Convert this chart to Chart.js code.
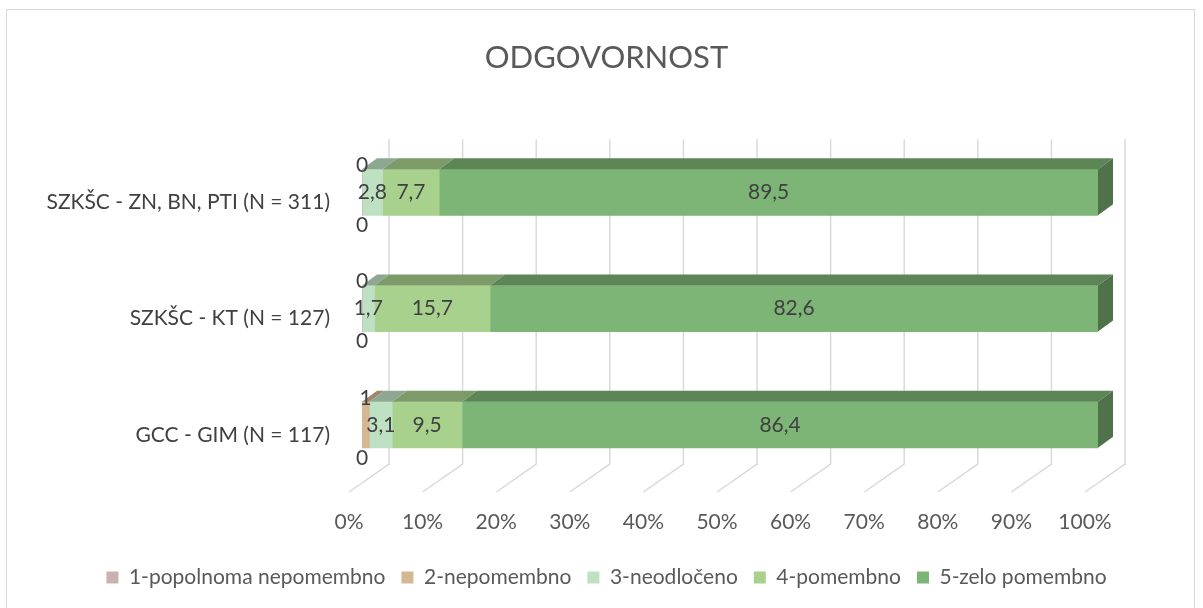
<!DOCTYPE html>
<html>
<head>
<meta charset="utf-8">
<script src="https://cdn.jsdelivr.net/npm/chart.js@4.4.0/dist/chart.umd.min.js"></script>
<style>
    html, body { margin: 0; padding: 0; background: #fff; }
</style>
</head>
<body>
<canvas id="grafOdgovornost" width="1203" height="608"></canvas>
<script>
const kategorije = ['SZKŠC - ZN, BN, PTI (N = 311)', 'SZKŠC - KT (N = 127)', 'GCC - GIM (N = 117)'];
const serije = ['1-popolnoma nepomembno', '2-nepomembno', '3-neodločeno', '4-pomembno', '5-zelo pomembno'];
const odgovor1 = [0, 0, 0];
const odgovor2 = [0, 0, 1];
const odgovor3 = [2.8, 1.7, 3.1];
const odgovor4 = [7.7, 15.7, 9.5];
const odgovor5 = [89.5, 82.6, 86.4];
const oznakeOsi = ['0%', '10%', '20%', '30%', '40%', '50%', '60%', '70%', '80%', '90%', '100%'];

const barve = ['#c9b2ad', '#d5b893', '#bfe1c3', '#a9d18e', '#7db576'];
const pisava = 'Lato, "Noto Sans", sans-serif';
const globina = { dx: 15, dy: 11 };
// odmik oznak za zelo majhne dele (nad / pod stolpcem)
const zunanjeOznake = { 0: 33, 1: -27 };

function senca(hex, f) {
    const n = parseInt(hex.slice(1), 16);
    const r = Math.round(((n >> 16) & 255) * f);
    const g = Math.round(((n >> 8) & 255) * f);
    const b = Math.round((n & 255) * f);
    return `rgb(${r},${g},${b})`;
}

const ozadje = {
    id: 'ozadje',
    beforeDraw(chart) {
        const ctx = chart.ctx;
        ctx.save();
        ctx.fillStyle = '#fff';
        ctx.fillRect(0, 0, chart.width, chart.height);
        ctx.strokeStyle = '#d9d9d9';
        ctx.lineWidth = 1;
        ctx.strokeRect(6.5, 9.5, 1188, 640);
        ctx.restore();
    }
};

// mreža v 3D (zadnja stena + tla)
const mreza = {
    id: 'mreza',
    beforeDatasetsDraw(chart) {
        const ctx = chart.ctx;
        const x = chart.scales.x;
        const area = chart.chartArea;
        ctx.save();
        ctx.strokeStyle = '#d9d9d9';
        ctx.lineWidth = 1.5;
        x.ticks.forEach(t => {
            const px = x.getPixelForValue(t.value);
            ctx.beginPath();
            ctx.moveTo(px + 27, area.top + 5);
            ctx.lineTo(px + 27, area.bottom - 19);
            ctx.lineTo(px - 13, area.bottom + 9);
            ctx.stroke();
        });
        ctx.restore();
    }
};

const stolpci3d = {
    id: 'stolpci3d',
    afterDatasetsDraw(chart) {
        const ctx = chart.ctx;
        const zadnji = chart.data.datasets.length - 1;
        ctx.save();
        chart.data.datasets.forEach((ds, di) => {
            const meta = chart.getDatasetMeta(di);
            meta.data.forEach(bar => {
                const { x, y, base, height } = bar.getProps(['x', 'y', 'base', 'height'], true);
                const top = y - height / 2;
                const bottom = y + height / 2;
                ctx.fillStyle = senca(ds.backgroundColor, 0.74);
                ctx.beginPath();
                ctx.moveTo(base, top);
                ctx.lineTo(x, top);
                ctx.lineTo(x + globina.dx, top - globina.dy);
                ctx.lineTo(base + globina.dx, top - globina.dy);
                ctx.closePath();
                ctx.fill();
                if (di === zadnji) {
                    ctx.fillStyle = senca(ds.backgroundColor, 0.63);
                    ctx.beginPath();
                    ctx.moveTo(x, top);
                    ctx.lineTo(x + globina.dx, top - globina.dy);
                    ctx.lineTo(x + globina.dx, bottom - globina.dy);
                    ctx.lineTo(x, bottom);
                    ctx.closePath();
                    ctx.fill();
                }
            });
        });

        ctx.fillStyle = '#404040';
        ctx.font = `21px ${pisava}`;
        ctx.textAlign = 'center';
        ctx.textBaseline = 'middle';
        chart.data.datasets.forEach((ds, di) => {
            const meta = chart.getDatasetMeta(di);
            meta.data.forEach((bar, i) => {
                const v = ds.data[i];
                const { x, y, base } = bar.getProps(['x', 'y', 'base'], true);
                let cy = y;
                if (zunanjeOznake[di] !== undefined) cy = y + zunanjeOznake[di];
                ctx.fillText(String(v).replace('.', ','), (base + x) / 2, cy);
            });
        });
        ctx.restore();
    }
};

const ctx = document.getElementById('grafOdgovornost').getContext('2d');
const vrednosti = [odgovor1, odgovor2, odgovor3, odgovor4, odgovor5];

new Chart(ctx, {
    type: 'bar',
    data: {
        labels: kategorije,
        datasets: serije.map((ime, i) => ({
            label: ime,
            data: vrednosti[i],
            backgroundColor: barve[i],
            borderWidth: 0,
            barThickness: 46
        }))
    },
    options: {
        responsive: false,
        animation: false,
        devicePixelRatio: 1,
        indexAxis: 'y',
        layout: { padding: { left: 10, right: 0, top: 0, bottom: 10 } },
        plugins: {
            title: {
                display: true,
                text: 'ODGOVORNOST',
                color: '#595959',
                font: { family: pisava, size: 31, weight: 'normal' },
                padding: { top: 39, bottom: 58 }
            },
            legend: {
                position: 'bottom',
                labels: {
                    boxWidth: 12,
                    boxHeight: 12,
                    padding: 16,
                    color: '#595959',
                    font: { family: pisava, size: 21 }
                }
            },
            tooltip: { enabled: false }
        },
        scales: {
            x: {
                stacked: true,
                min: 0,
                max: 100,
                ticks: {
                    stepSize: 10,
                    callback: (v, i) => oznakeOsi[i],
                    labelOffset: -13,
                    padding: 27,
                    color: '#595959',
                    font: { family: pisava, size: 21 }
                },
                grid: { display: false, drawTicks: false },
                border: { display: false },
                afterFit: s => { s.height = 68; }
            },
            y: {
                stacked: true,
                ticks: {
                    padding: 32,
                    labelOffset: 10,
                    color: '#404040',
                    font: { family: pisava, size: 21 }
                },
                grid: { display: false, drawTicks: false },
                border: { display: false },
                afterFit: s => { s.width = 352; }
            },
            desno: {
                type: 'linear',
                axis: 'y',
                position: 'right',
                ticks: { display: false },
                grid: { display: false, drawTicks: false },
                border: { display: false },
                afterFit: s => { s.width = 105; }
            }
        }
    },
    plugins: [ozadje, mreza, stolpci3d]
});
</script>
</body>
</html>
